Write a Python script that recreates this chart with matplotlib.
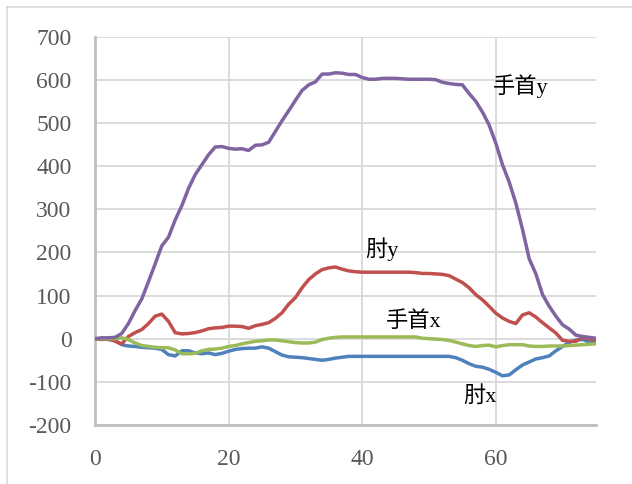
import matplotlib
matplotlib.use("Agg")
import matplotlib.pyplot as plt
from matplotlib.lines import Line2D
import numpy as np

# frame index
t = np.arange(0, 76)

# 肘x
elbow_x = [0, -1, -2, -4, -14, -17, -18, -20, -21, -22,
           -25, -37, -40, -28, -28, -33, -35, -33, -37, -34,
           -29, -25, -23, -22, -22, -19, -22, -30, -38, -42,
           -43, -44, -46, -48, -50, -48, -45, -43, -41, -41,
           -41, -41, -41, -41, -41, -41, -41, -41, -41, -41,
           -41, -41, -41, -41, -44, -50, -58, -64, -66, -71,
           -78, -86, -84, -72, -61, -54, -47, -44, -40, -28,
           -18, -9, -3, -2, -8, -10]

# 肘y
elbow_y = [0, -2, 0, -6, -12, 5, 14, 21, 35, 52,
           57, 40, 14, 11, 12, 14, 18, 23, 25, 26,
           29, 29, 28, 24, 30, 33, 37, 47, 60, 80,
           95, 118, 137, 150, 160, 164, 166, 161, 157, 155,
           154, 154, 154, 154, 154, 154, 154, 154, 153, 151,
           151, 150, 149, 146, 138, 130, 118, 102, 90, 75,
           59, 48, 40, 35, 55, 60, 50, 37, 25, 13,
           -4, -6, -6, 3, -1, -3]

# 手首x
wrist_x = [0, 0, 0, 0, 2, -2, -10, -16, -18, -20,
           -21, -21, -26, -35, -35, -34, -28, -25, -24, -22,
           -18, -16, -12, -9, -6, -5, -3, -3, -5, -7,
           -9, -10, -10, -8, -2, 1, 3, 4, 4, 4,
           4, 4, 4, 4, 4, 4, 4, 4, 4, 1,
           0, -1, -2, -4, -8, -12, -16, -18, -16, -15,
           -19, -16, -14, -14, -14, -17, -18, -18, -17, -17,
           -17, -16, -15, -14, -13, -12]

# 手首y
wrist_y = [0, 2, 2, 3, 12, 35, 65, 92, 132, 173,
           215, 235, 275, 308, 348, 380, 403, 426, 444, 445,
           441, 439, 440, 436, 448, 449, 455, 480, 505, 528,
           552, 575, 588, 595, 613, 613, 616, 615, 612, 612,
           605, 601, 601, 603, 603, 603, 602, 601, 601, 601,
           601, 600, 594, 591, 589, 588, 568, 550, 525, 495,
           453, 403, 363, 314, 253, 185, 150, 102, 75, 52,
           32, 22, 8, 5, 3, 1]

series_names = ["肘x", "肘y", "手首x", "手首y"]
series_colors = ["#4F81BD", "#C0504D", "#9BBB59", "#8064A2"]

# label anchor positions in data units
label_pos = {
    "手首y": (63.7, 585),
    "肘y": (43.0, 208),
    "手首x": (47.7, 40),
    "肘x": (57.7, -133),
}

y_ticks = [-200, -100, 0, 100, 200, 300, 400, 500, 600, 700]
y_tick_labels = ["-200", "-100", "0", "100", "200", "300", "400", "500", "600", "700"]
x_ticks = [0, 20, 40, 60]
x_tick_labels = ["0", "20", "40", "60"]

W, H = 632, 484
fig = plt.figure(figsize=(W / 100, H / 100), dpi=100)
fig.patch.set_facecolor("white")

# chart-area border (top and left edges)
border_kw = dict(color="#d9d9d9", linewidth=1.2, transform=fig.transFigure)
fig.add_artist(Line2D([7 / W, 1.0], [1 - 7 / H, 1 - 7 / H], **border_kw))
fig.add_artist(Line2D([7 / W, 7 / W], [1 - 7 / H, 0.0], **border_kw))

ax = fig.add_axes([95 / W, (H - 425) / H, 501 / W, (425 - 36.5) / H])
ax.set_facecolor("white")

ax.set_xlim(0, 75)
ax.set_ylim(-200, 700)
ax.set_xticks(x_ticks)
ax.set_xticklabels(x_tick_labels)
ax.set_yticks(y_ticks)
ax.set_yticklabels(y_tick_labels)

ax.grid(True, color="#d9d9d9", linewidth=1.3, zorder=0)
ax.set_axisbelow(True)

for side in ("top", "right"):
    ax.spines[side].set_visible(False)
for side in ("left", "bottom"):
    ax.spines[side].set_color("#bfbfbf")
    ax.spines[side].set_linewidth(2.0)
    ax.spines[side].set_zorder(1)

ax.tick_params(axis="both", length=0, colors="#595959", labelsize=17)
ax.tick_params(axis="y", pad=17)
ax.tick_params(axis="x", pad=17)
for lbl in ax.get_xticklabels() + ax.get_yticklabels():
    lbl.set_fontfamily("Liberation Serif")

for name, vals, col in zip(series_names, [elbow_x, elbow_y, wrist_x, wrist_y], series_colors):
    ax.plot(t, vals, color=col, linewidth=2.5, solid_joinstyle="round",
            solid_capstyle="round", zorder=3)

for name in series_names:
    x, y = label_pos[name]
    ax.text(x, y, name, ha="center", va="center", fontsize=16, color="#000000",
            family=["Liberation Serif", "Noto Sans CJK JP"], zorder=4)

fig.savefig("out.png", dpi=100, facecolor="white")
